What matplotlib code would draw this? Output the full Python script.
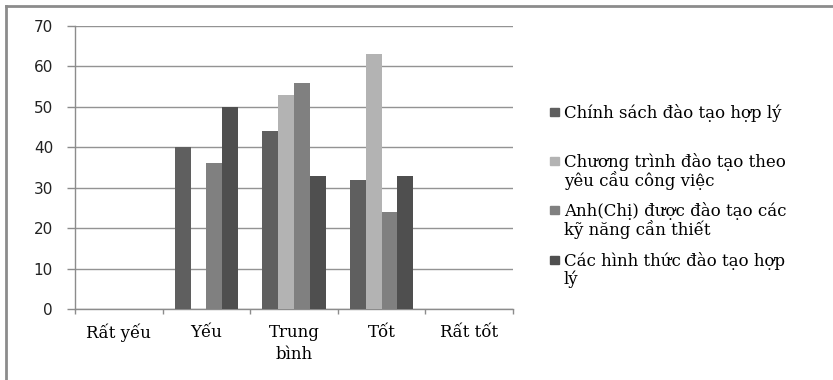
import matplotlib
matplotlib.use("Agg")
import matplotlib.pyplot as plt
import numpy as np
from matplotlib.patches import Rectangle
from matplotlib.lines import Line2D

categories = ["Rất yếu", "Yếu", "Trung\nbình", "Tốt", "Rất tốt"]
series_names = [
    "Chính sách đào tạo hợp lý",
    "Chương trình đào tạo theo\nyêu cầu công việc",
    "Anh(Chị) được đào tạo các\nkỹ năng cần thiết",
    "Các hình thức đào tạo hợp\nlý",
]
chinh_sach = [0, 40, 44, 32, 0]
chuong_trinh = [0, 0, 53, 63, 0]
ky_nang = [0, 36, 56, 24, 0]
hinh_thuc = [0, 50, 33, 33, 0]
series_values = [chinh_sach, chuong_trinh, ky_nang, hinh_thuc]
colors = ["#5f5f5f", "#b3b3b3", "#808080", "#4f4f4f"]
y_ticks = [0, 10, 20, 30, 40, 50, 60, 70]

SERIF = "DejaVu Serif"
W, H = 833, 380
fig = plt.figure(figsize=(W / 100, H / 100), dpi=100)
ax = fig.add_axes([75 / W, 1 - 309 / H, (513 - 75) / W, (309 - 26) / H])

x = np.arange(len(categories))
bw = 0.18
for i, (vals, c) in enumerate(zip(series_values, colors)):
    ax.bar(x + (i - 1.5) * bw, vals, width=bw, color=c, zorder=3)

ax.set_xlim(-0.5, len(categories) - 0.5)
ax.set_ylim(0, 70)
ax.set_yticks(y_ticks)
ax.yaxis.grid(True, color="#939393", linewidth=1, zorder=0)
for s in ["top", "right"]:
    ax.spines[s].set_visible(False)
for s in ["left", "bottom"]:
    ax.spines[s].set_color("#8c8c8c")
    ax.spines[s].set_linewidth(1)

ax.tick_params(axis="y", length=5.8, width=1, color="#8c8c8c", pad=10,
               labelsize=11, labelcolor="#222222")
for lab in ax.get_yticklabels():
    lab.set_family("DejaVu Sans")

ax.set_xticks(x)
ax.set_xticklabels(categories, family=SERIF, fontsize=12, linespacing=1.4)
ax.set_xticks(np.arange(-0.5, len(categories)), minor=True)
ax.tick_params(axis="x", which="major", length=0, pad=10.5)
ax.tick_params(axis="x", which="minor", length=3.6, width=1, color="#8c8c8c")

# legend (manual, markers aligned with first line)
tops = [104, 153, 202, 252]
for name, c, t in zip(series_names, colors, tops):
    fig.add_artist(Rectangle((550 / W, 1 - (t + 12) / H), 9 / W, 8 / H,
                             transform=fig.transFigure, color=c))
    fig.text(564 / W, 1 - t / H, name, family=SERIF,
             fontsize=12, va="top", ha="left", linespacing=1.0)

# outer frame (left and top edges visible)
fig.add_artist(Line2D([5.5 / W, 5.5 / W], [0, 1 - 6 / H],
                      transform=fig.transFigure, color="#8c8c8c", linewidth=2))
fig.add_artist(Line2D([5.5 / W, 1], [1 - 6 / H, 1 - 6 / H],
                      transform=fig.transFigure, color="#8c8c8c", linewidth=2))

fig.savefig("out.png", dpi=100)
